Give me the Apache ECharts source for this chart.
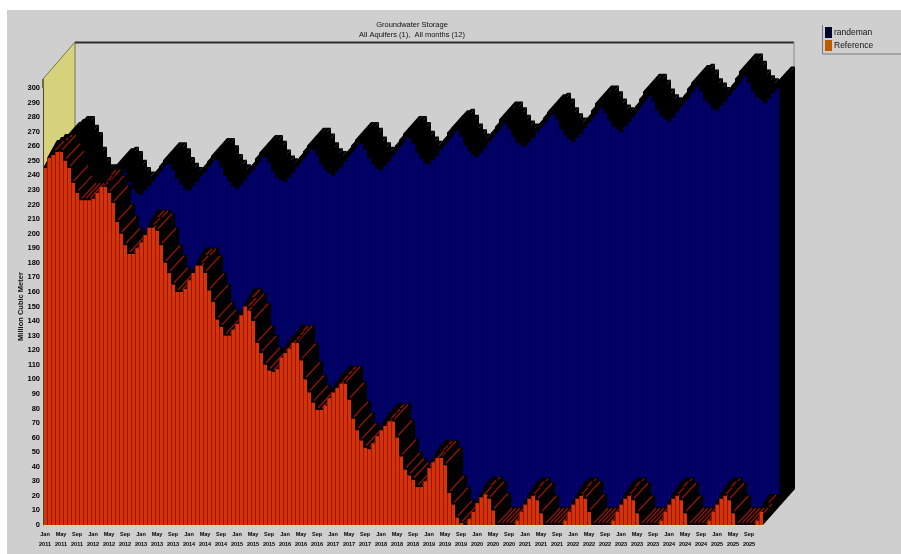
<!DOCTYPE html>
<html>
<head>
<meta charset="utf-8">
<style>html,body{margin:0;padding:0;background:#fff}#main{width:901px;height:554px}</style>
<script src="https://cdn.jsdelivr.net/npm/echarts@6/dist/echarts.min.js"></script>
</head>
<body>
<div id="main"></div>
<script>
var monthNames = ['Jan','Feb','Mar','Apr','May','Jun','Jul','Aug','Sep','Oct','Nov','Dec'];
var years = [2011,2012,2013,2014,2015,2016,2017,2018,2019,2020,2021,2022,2023,2024,2025];

var randeman = [
  245,252,254,256,256,250,245,235,228,223,223,223,
  226,230,234,235,232,226,221,218,217,220,223,226,
  230,234,238,238,234,228,224,221,220,223,226,230,
  233,237,241,241,236,230,226,223,221,224,227,231,
  234,239,243,243,239,233,229,227,226,229,232,236,
  240,244,248,248,244,238,234,232,230,233,236,240,
  244,248,252,252,248,242,238,235,234,237,240,244,
  248,252,256,256,252,246,242,239,238,241,244,248,
  252,257,260,261,257,251,247,244,243,246,249,253,
  257,261,266,266,262,257,253,251,250,253,256,260,
  263,267,271,272,268,262,258,255,253,256,259,263,
  267,272,277,277,273,268,264,262,260,264,267,271,
  275,280,285,285,281,275,271,269,267,270,274,278,
  282,287,291,292,288,282,279,276,275,278,281,285,
  289,294,299,299,294,288,284,282,280,283,287,290
];
var reference = [
  245,252,254,256,256,250,245,235,228,223,223,223,
  224,228,232,232,228,221,208,200,192,186,186,190,
  194,199,204,204,202,192,180,173,165,160,160,162,
  168,173,178,178,173,161,153,141,136,130,130,134,
  138,144,150,147,140,125,118,110,106,105,107,115,
  118,121,125,125,113,100,91,84,79,79,82,87,
  91,94,97,97,86,73,65,58,53,52,56,61,
  65,68,71,71,60,47,38,34,31,26,26,30,
  39,43,46,46,41,22,14,5,1,0,4,9,
  15,19,21,18,10,0,0,0,0,0,3,9,
  14,18,20,17,8,0,0,0,0,0,3,9,
  14,18,20,18,9,0,0,0,0,0,3,9,
  14,18,20,17,8,0,0,0,0,0,3,9,
  14,18,20,17,8,0,0,0,0,0,3,9,
  14,18,20,17,8,0,0,0,0,0,3,9
];

var categories = [];
years.forEach(function (y) {
  monthNames.forEach(function (m) { categories.push(m + '\n' + y); });
});

// oblique 3d offset of one row of bars
var rowDx = 16, rowDy = 18;
var gridLeft = 43, gridRight = 763, gridBottom = 525;

function barItem(params, api, opt) {
  var idx = api.value(0);
  var p = api.coord([idx, api.value(1)]);
  var base = api.coord([idx, 0]);
  var w = api.size([1, 0])[0];
  var x = p[0] - w / 2 + opt.shiftX;
  var y = p[1] - opt.shiftY;
  var y0 = base[1] - opt.shiftY;
  var cap = opt.cap || 0;
  var bulge = opt.bulge || 0;
  // the left bar's top goes over its right neighbour
  var topZ = 10 + (categories.length - idx) * 2;
  var frontZ = opt.frontOnTop ? 1000 : 5;
  var kids = [];
  kids.push({type: 'polygon', z2: 1, shape: {points: [[x + w, y], [x + w + rowDx, y - rowDy], [x + w + rowDx, y0 - rowDy], [x + w, y0]]}, style: {fill: '#000'}});
  kids.push({type: 'polygon', z2: topZ, shape: {points: [[x, y + cap], [x, y], [x + rowDx - bulge, y - rowDy], [x + w + rowDx, y - rowDy], [x + w, y], [x + w, y + cap]]}, style: {fill: '#000'}});
  if (opt.hatch) {
    kids.push({type: 'line', z2: topZ + 1, shape: {x1: x + w / 2 + 1, y1: y - 2, x2: x + w / 2 + rowDx - 1, y2: y - rowDy + 1}, style: {stroke: opt.hatch, lineWidth: 1.4}});
  }
  if (y0 - y > 0) {
    kids.push({type: 'rect', z2: frontZ, shape: {x: x, y: y, width: w, height: y0 - y}, style: {fill: opt.face}});
    kids.push({type: 'line', z2: frontZ + 1, shape: {x1: x + 0.5, y1: y, x2: x + 0.5, y2: y0}, style: {stroke: opt.edge, lineWidth: 1}});
  }
  return {type: 'group', children: kids};
}

var chart = echarts.init(document.getElementById('main'));
chart.setOption({
  backgroundColor: '#fff',
  animation: false,
  textStyle: {fontFamily: 'Liberation Sans'},
  title: {
    text: 'Groundwater Storage',
    subtext: 'All Aquifers (1),  All months (12)',
    left: 407, top: 16, textAlign: 'center', itemGap: 2,
    textStyle: {fontSize: 7.5, fontWeight: 'normal', color: '#111', fontFamily: 'Liberation Sans'},
    subtextStyle: {fontSize: 7.5, color: '#111', fontFamily: 'Liberation Sans'}
  },
  legend: {
    orient: 'vertical', left: 825, top: 27, itemWidth: 7, itemHeight: 11, itemGap: 2,
    icon: 'rect', padding: 0,
    textStyle: {fontSize: 8.5, color: '#111', fontFamily: 'Liberation Sans', padding: [2, 0, 0, -3]},
    data: ['randeman', 'Reference']
  },
  grid: {left: gridLeft, right: 901 - gridRight, top: 88, bottom: 554 - gridBottom},
  xAxis: {
    type: 'category', data: categories, boundaryGap: true,
    axisLine: {lineStyle: {color: '#e8df86', width: 2}},
    axisTick: {show: false},
    axisLabel: {interval: 3, margin: 4, fontSize: 5.5, lineHeight: 10, fontWeight: 'bold', color: '#000', fontFamily: 'Liberation Sans'}
  },
  yAxis: {
    type: 'value', min: 0, max: 300, interval: 10, z: 5,
    name: 'Million Cubic Meter', nameLocation: 'middle', nameGap: 18, nameMoveOverlap: false,
    nameTextStyle: {fontSize: 7.5, color: '#111', fontWeight: 'bold', fontFamily: 'Liberation Sans'},
    axisLine: {show: true, lineStyle: {color: '#4a4a20', width: 1}},
    axisTick: {show: false},
    splitLine: {show: false},
    axisLabel: {margin: 3, fontSize: 7.5, fontWeight: 'bold', color: '#000', fontFamily: 'Liberation Sans'}
  },
  graphic: [
    {type: 'rect', z: -1, shape: {x: 7, y: 10, width: 894, height: 544}, style: {fill: '#cfcfcf'}},
    {type: 'polygon', z: 0, shape: {points: [[43, 79], [75, 42], [75, 490], [43, 525]]}, style: {fill: '#d6d27c'}},
    {type: 'polyline', z: 0, shape: {points: [[43, 79], [75, 42], [75, 140]]}, style: {stroke: '#77774a', fill: null, lineWidth: 1}},
    {type: 'line', z: 0, shape: {x1: 43, y1: 79, x2: 43, y2: 88}, style: {stroke: '#4a4a20', lineWidth: 1.5}},
    {type: 'line', z: 0, shape: {x1: 75, y1: 42.5, x2: 794, y2: 42.5}, style: {stroke: '#2c2c2c', lineWidth: 2}},
    {type: 'line', z: 0, shape: {x1: 794, y1: 42, x2: 794, y2: 70}, style: {stroke: '#888', lineWidth: 1}},
    {type: 'polyline', z: 0, shape: {points: [[822.5, 25], [822.5, 54], [901, 54]]}, style: {stroke: '#777', fill: null, lineWidth: 1}}
  ],
  series: [
    {
      name: 'randeman', type: 'custom', z: 2, clip: false,
      itemStyle: {color: '#00002e'},
      encode: {x: 0, y: 1},
      data: randeman.map(function (v, i) { return [i, v]; }),
      renderItem: function (params, api) {
        return barItem(params, api, {shiftX: rowDx, shiftY: rowDy, face: '#00006c', edge: '#00004c', cap: 4});
      }
    },
    {
      name: 'Reference', type: 'custom', z: 3, clip: false,
      itemStyle: {color: '#c05a00'},
      encode: {x: 0, y: 1},
      data: reference.map(function (v, i) { return [i, v]; }),
      renderItem: function (params, api) {
        return barItem(params, api, {shiftX: 0, shiftY: 0, face: '#d8320a', edge: '#8c1a04', hatch: '#8a1408', frontOnTop: true, bulge: 6});
      }
    }
  ]
});
</script>
</body>
</html>
